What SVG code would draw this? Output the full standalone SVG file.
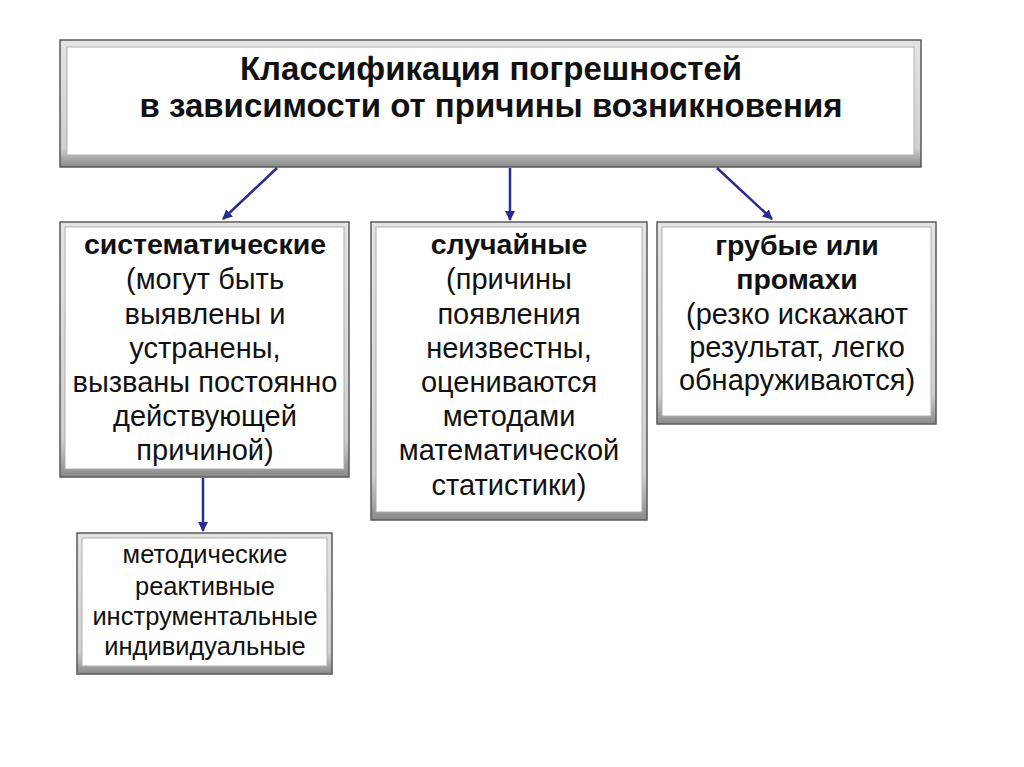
<svg xmlns="http://www.w3.org/2000/svg" width="1024" height="767" viewBox="0 0 1024 767">
<defs>
<linearGradient id="bev" x1="0" y1="0" x2="0" y2="1">
<stop offset="0" stop-color="#e4e4e4"/>
<stop offset="0.85" stop-color="#cfcfcf"/>
<stop offset="1" stop-color="#8a8a8a"/>
</linearGradient>
<marker id="a" viewBox="0 0 10 10" refX="9" refY="5" markerWidth="10" markerHeight="10" orient="auto" markerUnits="userSpaceOnUse">
<path d="M0,0 L10,5 L0,10 z" fill="#2b2b8c"/>
</marker>
</defs>
<style>
.outer{fill:url(#bev);stroke:#5a5a5a;stroke-width:1.5}
.inner{fill:#ffffff;stroke:#b0b0b0;stroke-width:1}
text{font-family:"Liberation Sans",Arial,sans-serif;fill:#111;text-anchor:middle}
.t{font-size:33px;font-weight:bold}
.b{font-size:28.5px;font-weight:bold}
.n{font-size:29px}
.s{font-size:25.5px}
.con{stroke:#2b2b8c;stroke-width:2.5;fill:none}
</style>
<rect width="1024" height="767" fill="#ffffff"/>
<g id="title">
<rect class="outer" x="60" y="40" width="861" height="127"/>
<rect class="inner" x="67" y="47" width="847" height="108"/>
<text class="t" x="491" y="80">Классификация погрешностей</text>
<text class="t" x="491" y="117">в зависимости от причины возникновения</text>
</g>
<g id="systematic">
<rect class="outer" x="60" y="222" width="289" height="255"/>
<rect class="inner" x="65" y="227" width="279" height="242"/>
<text class="b" x="205" y="254">систематические</text>
<text class="n" x="205" y="289">(могут быть</text>
<text class="n" x="205" y="324">выявлены и</text>
<text class="n" x="205" y="358">устранены,</text>
<text class="n" x="205" y="392">вызваны постоянно</text>
<text class="n" x="205" y="426">действующей</text>
<text class="n" x="205" y="460">причиной)</text>
</g>
<g id="random">
<rect class="outer" x="371" y="222" width="276" height="298"/>
<rect class="inner" x="376" y="227" width="266" height="285"/>
<text class="b" x="509" y="254">случайные</text>
<text class="n" x="509" y="289">(причины</text>
<text class="n" x="509" y="324">появления</text>
<text class="n" x="509" y="358">неизвестны,</text>
<text class="n" x="509" y="392">оцениваются</text>
<text class="n" x="509" y="426">методами</text>
<text class="n" x="509" y="460">математической</text>
<text class="n" x="509" y="495">статистики)</text>
</g>
<g id="gross">
<rect class="outer" x="657" y="222" width="279" height="202"/>
<rect class="inner" x="662" y="227" width="269" height="189"/>
<text class="b" x="797" y="255">грубые или</text>
<text class="b" x="797" y="289">промахи</text>
<text class="n" x="797" y="324">(резко искажают</text>
<text class="n" x="797" y="357">результат, легко</text>
<text class="n" x="797" y="390">обнаруживаются)</text>
</g>
<g id="subtypes">
<rect class="outer" x="77" y="533" width="255" height="141"/>
<rect class="inner" x="82" y="538" width="245" height="128"/>
<text class="s" x="205" y="563">методические</text>
<text class="s" x="205" y="595">реактивные</text>
<text class="s" x="205" y="625">инструментальные</text>
<text class="s" x="205" y="655">индивидуальные</text>
</g>
<g id="connectors">
<line class="con" x1="277" y1="168" x2="223" y2="219" marker-end="url(#a)"/>
<line class="con" x1="510" y1="168" x2="510" y2="220" marker-end="url(#a)"/>
<line class="con" x1="717" y1="168" x2="772" y2="219" marker-end="url(#a)"/>
<line class="con" x1="203" y1="478" x2="203" y2="531" marker-end="url(#a)"/>
</g>
</svg>
